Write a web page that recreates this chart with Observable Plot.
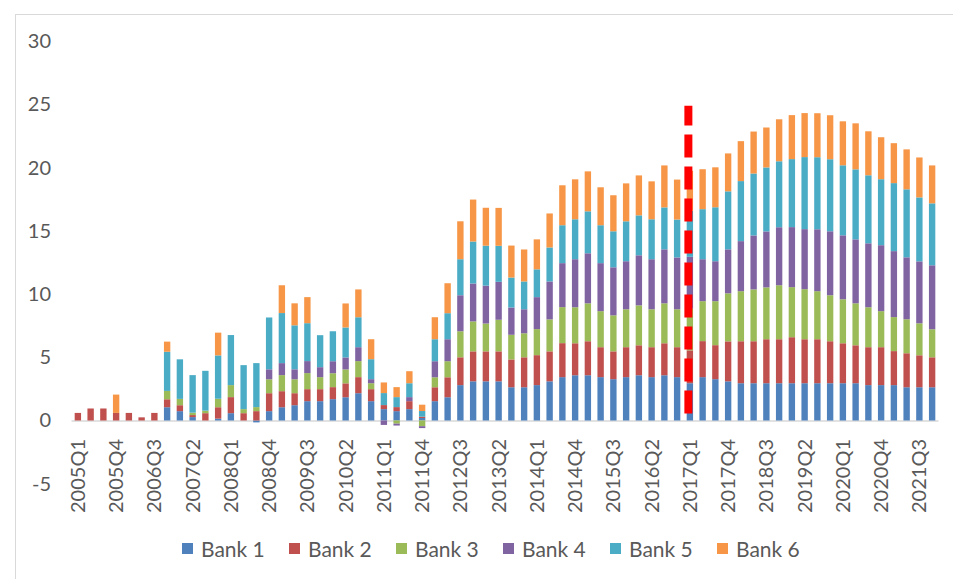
<!DOCTYPE html>
<html>
<head>
<meta charset="utf-8">
<script src="https://cdn.jsdelivr.net/npm/d3@7"></script>
<script src="https://cdn.jsdelivr.net/npm/@observablehq/plot@0.6"></script>
<style>
  html, body { margin: 0; padding: 0; background: #fff; }
  #wrap { position: relative; width: 953px; height: 579px; overflow: hidden; font-family: Lato, "Open Sans", sans-serif; }
  #frame { position: absolute; left: 15px; top: 14px; width: 960px; height: 600px; border: 1px solid #d9d9d9; box-sizing: border-box; }
  #chart { position: absolute; left: 0; top: 0; }
  #legend { position: absolute; left: 182px; top: 536px; display: flex; color: #595959; font-size: 21px; }
  #legend .item { display: flex; align-items: center; gap: 8px; width: 107px; }
  #legend .sw { width: 11px; height: 11px; display: inline-block; flex: none; }
</style>
</head>
<body>
<div id="wrap">
  <div id="frame"></div>
  <div id="chart"></div>
  <div id="legend"></div>
</div>
<script>
const quarters = [
  "2005Q1","2005Q2","2005Q3","2005Q4","2006Q1","2006Q2","2006Q3","2006Q4",
  "2007Q1","2007Q2","2007Q3","2007Q4","2008Q1","2008Q2","2008Q3","2008Q4",
  "2009Q1","2009Q2","2009Q3","2009Q4","2010Q1","2010Q2","2010Q3","2010Q4",
  "2011Q1","2011Q2","2011Q3","2011Q4","2012Q1","2012Q2","2012Q3","2012Q4",
  "2013Q1","2013Q2","2013Q3","2013Q4","2014Q1","2014Q2","2014Q3","2014Q4",
  "2015Q1","2015Q2","2015Q3","2015Q4","2016Q1","2016Q2","2016Q3","2016Q4",
  "2017Q1","2017Q2","2017Q3","2017Q4","2018Q1","2018Q2","2018Q3","2018Q4",
  "2019Q1","2019Q2","2019Q3","2019Q4","2020Q1","2020Q2","2020Q3","2020Q4",
  "2021Q1","2021Q2","2021Q3","2021Q4"
];
const tickLabels = ["2005Q1","2005Q4","2006Q3","2007Q2","2008Q1","2008Q4","2009Q3","2010Q2",
  "2011Q1","2011Q4","2012Q3","2013Q2","2014Q1","2014Q4","2015Q3","2016Q2","2017Q1",
  "2017Q4","2018Q3","2019Q2","2020Q1","2020Q4","2021Q3"];
const yTicks = [-5, 0, 5, 10, 15, 20, 25, 30];
const seriesNames = ["Bank 1","Bank 2","Bank 3","Bank 4","Bank 5","Bank 6"];
const seriesColors = ["#4F81BD","#C0504D","#9BBB59","#8064A2","#4BACC6","#F79646"];

const bank1 = [0,0,0,0,0,0,0,1.05, 0.74,0.27,0,0.15,0.58,0,-0.15,0.74,
  1.05,1.21,1.53,1.53,1.69,1.84,2.16,1.53, 0.9,0.74,0.9,0.2,1.53,1.84,2.8,3.1,
  3.1,3.1,2.63,2.63,2.8,3.1,3.43,3.58, 3.58,3.43,3.27,3.43,3.58,3.43,3.58,3.43,
  2.95,3.43,3.27,3.1,2.95,2.95,2.95,2.95, 2.95,2.95,2.95,2.95,2.95,2.95,2.8,2.8,
  2.8,2.63,2.63,2.63];
const bank2 = [0.6,0.95,0.95,0.6,0.6,0.25,0.6,0.63, 0.47,0.16,0.58,0.9,1.27,0.58,0.74,1.42,
  1.27,0.95,0.95,0.95,0.95,1.1,1.27,0.95, 0.32,0.32,0.63,0.1,1.1,1.58,2.2,2.37,
  2.37,2.37,2.2,2.37,2.37,2.37,2.69,2.53, 2.69,2.37,2.2,2.37,2.37,2.37,2.53,2.37,
  2.6,2.85,2.69,3.16,3.32,3.32,3.48,3.48, 3.64,3.48,3.48,3.32,3.16,3.0,3.0,3.0,
  2.69,2.69,2.53,2.37];
const bank3 = [0,0,0,0,0,0,0,0.66, 0.5,0.19,0.2,0.67,0.95,0.32,0.32,1.1,
  1.27,1.1,1.27,0.95,1.1,1.1,1.27,0.47, 0,-0.25,0,-0.45,0.79,1.27,2.06,2.37,
  2.2,2.5,1.95,1.9,2.06,2.53,2.85,2.85, 3.0,2.85,2.85,3.0,3.16,3.0,3.16,3.0,
  3.3,3.16,3.48,3.8,3.96,4.1,4.1,4.27, 3.96,3.96,3.8,3.64,3.48,3.32,3.16,2.85,
  2.69,2.69,2.53,2.22];
const bank4 = [0,0,0,0,0,0,0,0, 0,0,0,0,0,0,0,0.79,
  0.95,0.79,0.95,0.79,0.95,0.95,1.1,0.32, -0.35,-0.15,0.32,-0.15,1.27,1.74,2.85,3.0,
  3.0,3.0,2.16,1.9,2.53,3.0,3.48,3.8, 3.96,3.8,3.8,3.8,3.96,3.96,4.27,4.1,
  4.1,3.32,3.16,3.48,3.96,4.27,4.43,4.59, 4.75,4.75,4.9,5.06,5.06,5.06,5.06,5.22,
  5.22,4.9,4.9,5.06];
const bank5 = [0,0,0,0,0,0,0,3.1, 3.13,2.97,3.15,3.43,3.96,3.48,3.48,4.1,
  3.96,3.48,3.0,2.53,2.37,2.37,2.37,1.58, 0.95,0.79,1.1,0.45,1.74,2.06,2.85,3.32,
  3.16,2.85,2.37,2.2,2.2,2.69,3.0,3.16, 3.32,3.0,2.85,3.16,3.16,3.16,3.32,3.0,
  3.64,3.96,4.27,4.59,4.75,4.9,5.06,5.22, 5.38,5.7,5.7,5.7,5.54,5.54,5.38,5.22,
  5.38,5.38,5.06,4.9];
const bank6 = [0,0,0,1.45,0,0,0,0.8, 0,0,0,1.8,0,0,0,0,
  2.2,1.74,2.06,0,0,1.9,2.2,1.58, 0.84,0.79,0.95,0.5,1.74,2.37,3.0,3.32,
  3.0,3.0,2.53,2.53,2.37,2.69,3.16,3.16, 3.16,3.0,2.85,3.0,3.16,3.0,3.32,3.16,
  3.16,3.16,3.16,3.0,3.16,3.32,3.16,3.32, 3.48,3.48,3.48,3.48,3.48,3.64,3.48,3.32,
  3.16,3.16,3.16,3.0];

const markerQuarter = ["2017Q1"];
const markerRange = [0.55, 24.9];

const seriesValues = [bank1, bank2, bank3, bank4, bank5, bank6];
const data = quarters.flatMap((q, i) =>
  seriesNames.map((s, k) => ({q, s, v: seriesValues[k][i]})));

const txt = "#595959";
const plot = Plot.plot({
  width: 953,
  height: 530,
  marginTop: 41.3,
  marginBottom: 46.3,
  marginLeft: 71.5,
  marginRight: 14.5,
  style: {fontFamily: "Lato, 'Open Sans', sans-serif", background: "transparent", overflow: "visible"},
  x: {type: "band", domain: quarters, paddingInner: 0.5, paddingOuter: 0.25, axis: null},
  y: {domain: [-5, 30], axis: null},
  color: {domain: seriesNames, range: seriesColors},
  marks: [
    Plot.ruleY([0], {stroke: "#d9d9d9", strokeWidth: 1.5}),
    Plot.barY(data, {x: "q", y: "v", fill: "s"}),
    Plot.ruleX(markerQuarter, {x: d => d, y1: markerRange[0], y2: markerRange[1],
      stroke: "#FF0000", strokeWidth: 8, strokeDasharray: "23,9", dx: -2}),
    Plot.text(yTicks, {frameAnchor: "left", y: d => d, text: d => String(d),
      textAnchor: "end", dx: -21, fill: txt, fontSize: 20}),
    Plot.text(tickLabels, {x: d => d, y: 0, text: d => d, rotate: -90,
      textAnchor: "end", dy: 18, fill: txt, fontSize: 20})
  ]
});
document.getElementById("chart").appendChild(plot);

const legend = document.getElementById("legend");
seriesNames.forEach((s, k) => {
  const item = document.createElement("div");
  item.className = "item";
  const sw = document.createElement("span");
  sw.className = "sw";
  sw.style.background = seriesColors[k];
  const lab = document.createElement("span");
  lab.textContent = s;
  item.appendChild(sw);
  item.appendChild(lab);
  legend.appendChild(item);
});
</script>
</body>
</html>
